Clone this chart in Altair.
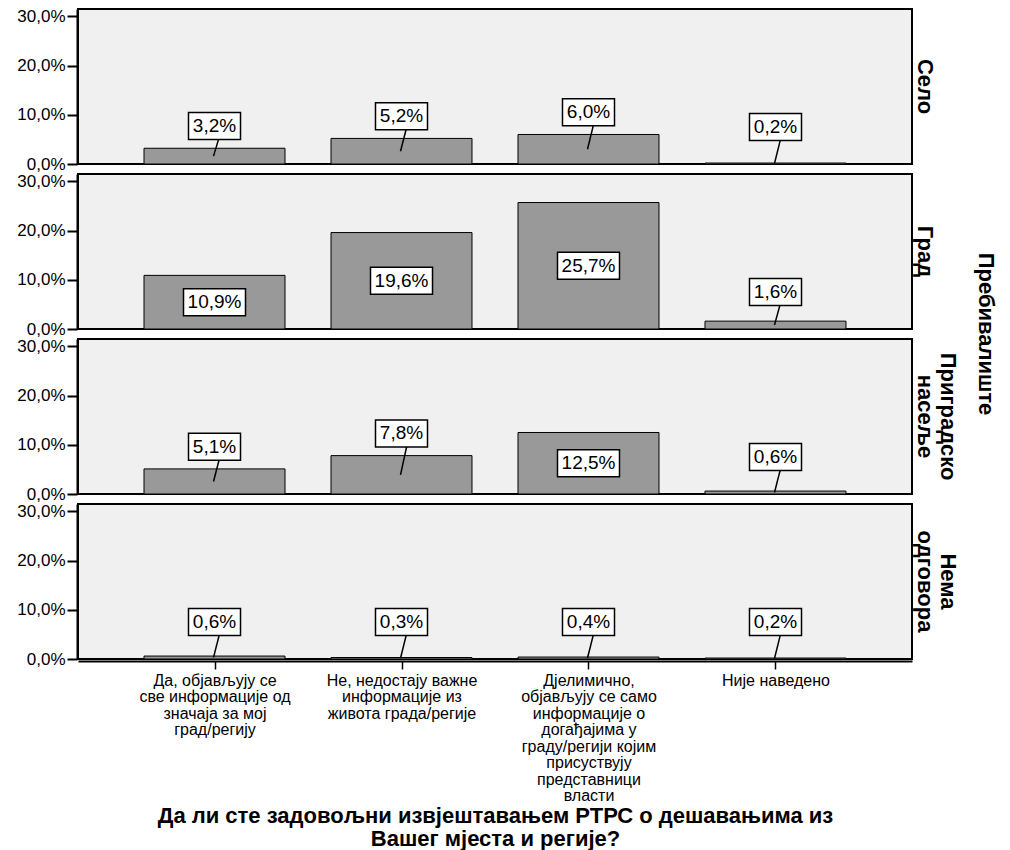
import altair as alt
import pandas as pd

# Place of residence (facet rows) and answer categories (x axis)
residence = ["Село", "Град", "Приградско насеље", "Нема одговора"]
answers = [
    "Да, објављују се|све информације од|значаја за мој|град/регију",
    "Не, недостају важне|информације из|живота града/регије",
    "Дјелимично,|објављују се само|информације о|догађајима у|граду/регији којим|присуствују|представници|власти",
    "Није наведено",
]

# Percent of all respondents per cell
selo = [3.2, 5.2, 6.0, 0.2]
grad = [10.9, 19.6, 25.7, 1.6]
prigradsko = [5.1, 7.8, 12.5, 0.6]
nema = [0.6, 0.3, 0.4, 0.2]

FONT = "Liberation Sans"
HALF_BAR = 0.377
BOX_H = 27

rows = []
for place, values in zip(residence, [selo, grad, prigradsko, nema]):
    for i, v in enumerate(values):
        txt = f"{v:.1f}%".replace(".", ",")
        inside = v >= 10
        label_y = v / 2 if inside else max(v + 4.5, 7.5)
        w = 10 * len(txt) + 12
        r = BOX_H / w
        rows.append({
            "place": place,
            "idx": i,
            "x0": i - HALF_BAR,
            "x1": i + HALF_BAR,
            "value": v,
            "zero": 0,
            "mid": v / 2,
            "label": txt,
            "label_y": label_y,
            "inside": inside,
            "box": f"M-1,{-r:.4f}L1,{-r:.4f}L1,{r:.4f}L-1,{r:.4f}Z",
            "box_size": w * w,
        })
df = pd.DataFrame(rows)

js_answers = "[" + ",".join("'" + a + "'" for a in answers) + "]"

x_scale = alt.Scale(domain=[-0.73, 3.73], nice=False, zero=False)
y_scale = alt.Scale(domain=[0, 31.5], nice=False)

x_axis = alt.Axis(
    values=[0, 1, 2, 3],
    labelExpr=f"split({js_answers}[datum.value], '|')",
    grid=False,
    tickSize=8,
    tickWidth=1.5,
    tickColor="black",
    domainColor="black",
    domainWidth=2,
    labelFont=FONT,
    labelFontSize=16,
    labelLineHeight=16.5,
    labelColor="black",
    labelPadding=3,
    labelBound=False,
    labelOverlap=False,
    title=["Да ли сте задовољни извјештавањем РТРС о дешавањима из", "Вашег мјеста и регије?"],
    titleFont=FONT,
    titleFontSize=22,
    titleFontWeight="bold",
    titleColor="black",
    titleLineHeight=23,
    titlePadding=2,
)

y_axis = alt.Axis(
    values=[0, 10, 20, 30],
    labelExpr="replace(format(datum.value, '.1f'), '.', ',') + '%'",
    grid=False,
    tickSize=10,
    tickWidth=2,
    tickColor="black",
    domainColor="black",
    domainWidth=2,
    labelFont=FONT,
    labelFontSize=17,
    labelColor="black",
    labelPadding=2,
    labelOverlap=False,
    title=None,
)

bars = alt.Chart().mark_rect(fill="#999999", stroke="black", strokeWidth=1).encode(
    x=alt.X("x0:Q", scale=x_scale, axis=x_axis),
    x2="x1:Q",
    y=alt.Y("value:Q", scale=y_scale, axis=y_axis),
    y2="zero:Q",
)

leaders = alt.Chart().mark_rule(color="black", strokeWidth=1.5, xOffset=8, x2Offset=-1).encode(
    x="idx:Q",
    x2="idx:Q",
    y="label_y:Q",
    y2="mid:Q",
).transform_filter("!datum.inside")

boxes = alt.Chart().mark_point(
    filled=True, fill="white", stroke="black", strokeWidth=1.5, opacity=1
).encode(
    x="idx:Q",
    y="label_y:Q",
    shape=alt.Shape("box:N", scale=None),
    size=alt.Size("box_size:Q", scale=None),
)

texts = alt.Chart().mark_text(font=FONT, fontSize=19, color="black", baseline="middle").encode(
    x="idx:Q",
    y="label_y:Q",
    text="label:N",
)

chart = (
    alt.layer(bars, leaders, boxes, texts, data=df)
    .properties(width=834, height=155)
    .facet(
        row=alt.Row(
            "place:N",
            sort=residence,
            header=alt.Header(
                labelOrient="right",
                labelAngle=90,
                labelExpr="split(datum.value, ' ')",
                labelFont=FONT,
                labelFontSize=22,
                labelFontWeight="bold",
                labelColor="black",
                labelPadding=0,
                labelLineHeight=23,
                titleOrient="right",
                titleAngle=90,
                titleFont=FONT,
                titleFontSize=22,
                titleFontWeight="bold",
                titleColor="black",
                titlePadding=5,
            ),
            title="Пребивалиште",
        ),
        spacing=7,
    )
    .configure_view(fill="#f0f0f0", stroke="black", strokeWidth=2)
    .configure(
        background="white",
        padding={"left": 16, "top": 7, "right": 5, "bottom": 5},
        style={"cell": {"stroke": "black", "strokeWidth": 2, "fill": "#f0f0f0"}},
    )
)

chart.save("out.html", embed_options={"renderer": "svg", "actions": False})
